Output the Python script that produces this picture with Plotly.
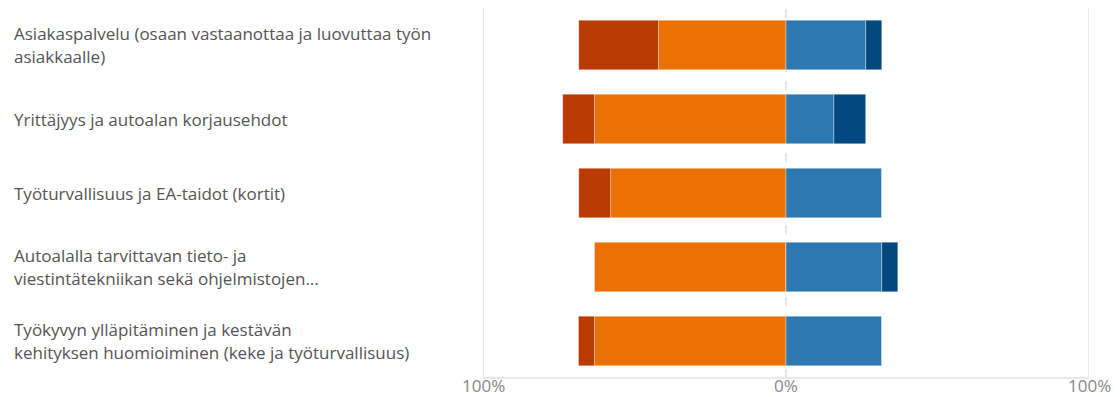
import plotly.graph_objects as go

# Survey statements (top to bottom), each split into display lines
categories = [
    ["Asiakaspalvelu (osaan vastaanottaa ja luovuttaa työn", "asiakkaalle)"],
    ["Yrittäjyys ja autoalan korjausehdot"],
    ["Työturvallisuus ja EA-taidot (kortit)"],
    ["Autoalalla tarvittavan tieto- ja", "viestintätekniikan sekä ohjelmistojen..."],
    ["Työkyvyn ylläpitäminen ja kestävän", "kehityksen huomioiminen (keke ja työturvallisuus)"],
]

# Response shares in percent
strong_neg = [26.3, 10.5, 10.5, 0.0, 5.3]
neg = [42.1, 63.2, 57.9, 63.2, 63.2]
pos = [26.3, 15.8, 31.6, 31.6, 31.6]
strong_pos = [5.3, 10.5, 0.0, 5.3, 0.0]

tick_vals = [-100, 0, 100]
tick_text = ["100%", "0%", "100%"]

C_STRONG_NEG = "#BA3A00"
C_NEG = "#EB7005"
C_POS = "#2B79B0"
C_STRONG_POS = "#03497F"

ypos = list(range(len(categories)))
edge = dict(color="rgba(255,255,255,0.35)", width=1)
BW = 0.67

fig = go.Figure()
# Negative side: nearest-to-zero first so it stacks outward
fig.add_trace(go.Bar(y=ypos, x=[-v for v in neg], orientation="h",
                     marker=dict(color=C_NEG, line=edge), width=BW))
fig.add_trace(go.Bar(y=ypos, x=[-v for v in strong_neg], orientation="h",
                     marker=dict(color=C_STRONG_NEG, line=edge), width=BW))
fig.add_trace(go.Bar(y=ypos, x=pos, orientation="h",
                     marker=dict(color=C_POS, line=edge), width=BW))
fig.add_trace(go.Bar(y=ypos, x=strong_pos, orientation="h",
                     marker=dict(color=C_STRONG_POS, line=edge), width=BW))

# Reference lines
grid = "#E8E8E8"
for xv in (-100, 100):
    fig.add_shape(type="line", xref="x", yref="paper", x0=xv, x1=xv, y0=0, y1=1,
                  line=dict(color=grid, width=2), layer="below")
fig.add_shape(type="line", xref="x", yref="paper", x0=0, x1=0, y0=0, y1=1,
              line=dict(color=grid, width=2, dash="dash"), layer="below")
fig.add_shape(type="line", xref="x", yref="paper", x0=-100, x1=100, y0=0, y1=0,
              line=dict(color=grid, width=2), layer="below")

# Left-aligned category labels
L = 483
plot_w = 1120 - L - 31
x_label = (12 - L) / plot_w
line_gap = 23
for i, lines in enumerate(categories):
    n = len(lines)
    for j, txt in enumerate(lines):
        shift = ((n - 1) / 2 - j) * line_gap
        fig.add_annotation(x=x_label, xref="paper", y=i, yref="y", text=txt,
                           showarrow=False, xanchor="left", yanchor="middle",
                           yshift=shift, align="left",
                           font=dict(family="Open Sans", size=17, color="#555555"))

# Percentage labels under the axis
for tv, tt in zip(tick_vals, tick_text):
    fig.add_annotation(x=tv, xref="x", y=0, yref="paper", text=tt,
                       showarrow=False, xanchor="center", yanchor="middle",
                       yshift=-7, borderpad=0,
                       font=dict(family="Open Sans", size=17, color="#888888"))

fig.update_layout(
    width=1120, height=397,
    margin=dict(l=L, r=31, t=8, b=19, autoexpand=False),
    barmode="relative",
    showlegend=False,
    plot_bgcolor="white", paper_bgcolor="white",
    xaxis=dict(range=[-100, 100], showticklabels=False,
               showgrid=False, zeroline=False, showline=False, ticks="",
               automargin=False),
    yaxis=dict(range=[4.5, -0.5], showticklabels=False, showgrid=False,
               zeroline=False, showline=False, automargin=False),
)

fig.write_html("out.html")
